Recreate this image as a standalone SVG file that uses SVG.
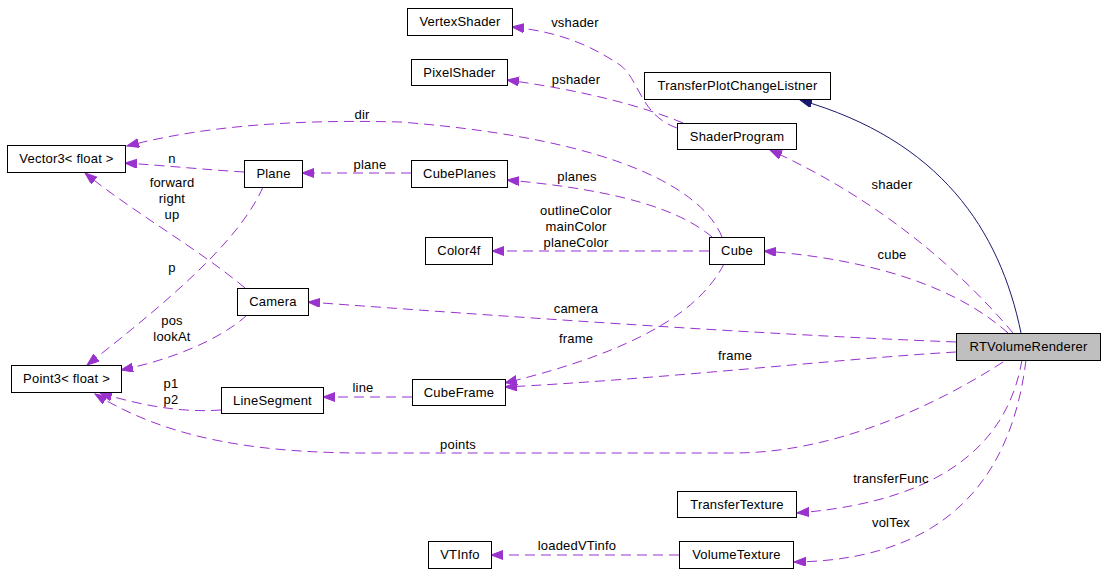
<svg xmlns="http://www.w3.org/2000/svg" width="1104" height="584" viewBox="0 0 1104 584">
<style>
text{font-family:"Liberation Sans",Arial,sans-serif;font-size:13px;letter-spacing:0.2px;fill:#000}
.n rect{fill:#fff;stroke:#000;stroke-width:1}
.n text{text-anchor:middle}
.e{fill:none;stroke:#9a32cd;stroke-width:1;stroke-dasharray:10,6;marker-end:url(#ap)}
.inh{fill:none;stroke:#191970;stroke-width:1;marker-end:url(#an)}
.l{text-anchor:middle}
</style>
<defs>
<marker id="ap" markerUnits="userSpaceOnUse" markerWidth="14" markerHeight="10" refX="12" refY="4.5" orient="auto"><path d="M0,0 L12,4.5 L0,9 z" fill="#9a32cd" stroke="#9a32cd"/></marker>
<marker id="an" markerUnits="userSpaceOnUse" markerWidth="14" markerHeight="10" refX="12" refY="4.5" orient="auto"><path d="M0,0 L12,4.5 L0,9 z" fill="#191970" stroke="#191970"/></marker>
</defs>
<rect width="1104" height="584" fill="#fff"/>
<g id="connectors">
<path class="inh" d="M1021,333 C1000,230 940,140 800,100"/>
<path class="e" d="M1013,333 C960,270 880,200 770,150"/>
<text class="l" x="892" y="189">shader</text>
<path class="e" d="M1008,333 C960,290 880,260 764,251"/>
<text class="l" x="892" y="259">cube</text>
<path class="e" d="M956,342 C750,334 500,316 308,302"/>
<text class="l" x="576" y="313">camera</text>
<path class="e" d="M956,352 C850,358 650,380 505,387"/>
<text class="l" x="735" y="360">frame</text>
<path class="e" d="M724,264 C700,310 640,350 505,383"/>
<text class="l" x="576" y="343">frame</text>
<path class="e" d="M709,251 L492,251"/>
<text class="l" x="576" y="215">outlineColor</text>
<text class="l" x="576" y="231">mainColor</text>
<text class="l" x="576" y="247">planeColor</text>
<path class="e" d="M712,237 C680,210 620,190 507,180"/>
<text class="l" x="577" y="181">planes</text>
<path class="e" d="M722,237 C705,195 630,140 400,122 C250,118 170,135 127,146"/>
<text class="l" x="362" y="119">dir</text>
<path class="e" d="M677,128 C640,115 640,80 620,65 C590,45 560,32 512,27"/>
<text class="l" x="575" y="27">vshader</text>
<path class="e" d="M683,123 C640,105 580,90 507,80"/>
<text class="l" x="576" y="84">pshader</text>
<path class="e" d="M244,172 C210,170 170,166 125,163"/>
<text class="l" x="172" y="163">n</text>
<path class="e" d="M411,173 L302,173"/>
<text class="l" x="370" y="169">plane</text>
<path class="e" d="M245,288 C200,250 130,210 85,173"/>
<text class="l" x="172" y="187">forward</text>
<text class="l" x="172" y="203">right</text>
<text class="l" x="172" y="219">up</text>
<path class="e" d="M263,187 C240,240 170,300 87,365"/>
<text class="l" x="172" y="272">p</text>
<path class="e" d="M247,315 C220,340 170,360 121,370"/>
<text class="l" x="172" y="325">pos</text>
<text class="l" x="172" y="341">lookAt</text>
<path class="e" d="M221,410 C180,413 140,405 100,393"/>
<text class="l" x="171" y="388">p1</text>
<text class="l" x="171" y="404">p2</text>
<path class="e" d="M412,397 L323,397"/>
<text class="l" x="363" y="392">line</text>
<path class="e" d="M1003,362 C960,390 850,453 734,453 L380,453 C260,454 170,440 95,394"/>
<text class="l" x="458" y="449">points</text>
<path class="e" d="M1022,360 C1010,430 960,500 797,513"/>
<text class="l" x="891" y="483">transferFunc</text>
<path class="e" d="M1026,360 C1015,450 970,560 794,562"/>
<text class="l" x="891" y="527">volTex</text>
<path class="e" d="M679,555 L491,555"/>
<text class="l" x="577" y="550">loadedVTinfo</text>
</g>
<g id="VertexShader" class="n"><rect x="407.5" y="8.5" width="105" height="27"/><text x="460" y="26">VertexShader</text></g>
<g id="PixelShader" class="n"><rect x="411.5" y="59.5" width="96" height="26"/><text x="459.5" y="76.5">PixelShader</text></g>
<g id="TransferPlotChangeListner" class="n"><rect x="644.5" y="72.5" width="186" height="27"/><text x="737.5" y="90">TransferPlotChangeListner</text></g>
<g id="ShaderProgram" class="n"><rect x="677.5" y="123.5" width="119" height="26"/><text x="737" y="140.5">ShaderProgram</text></g>
<g id="Vector3" class="n"><rect x="7.5" y="145.5" width="118" height="27"/><text x="66.5" y="163">Vector3&lt; float &gt;</text></g>
<g id="Plane" class="n"><rect x="244.5" y="160.5" width="58" height="27"/><text x="273.5" y="178">Plane</text></g>
<g id="CubePlanes" class="n"><rect x="411.5" y="160.5" width="96" height="27"/><text x="459.5" y="178">CubePlanes</text></g>
<g id="Color4f" class="n"><rect x="425.5" y="237.5" width="67" height="27"/><text x="459" y="255">Color4f</text></g>
<g id="Cube" class="n"><rect x="709.5" y="237.5" width="55" height="27"/><text x="737" y="255">Cube</text></g>
<g id="Camera" class="n"><rect x="237.5" y="288.5" width="71" height="27"/><text x="273" y="306">Camera</text></g>
<g id="Point3" class="n"><rect x="11.5" y="365.5" width="110" height="27"/><text x="66.5" y="383">Point3&lt; float &gt;</text></g>
<g id="LineSegment" class="n"><rect x="221.5" y="387.5" width="102" height="26"/><text x="272.5" y="404.5">LineSegment</text></g>
<g id="CubeFrame" class="n"><rect x="412.5" y="379.5" width="93" height="26"/><text x="459" y="396.5">CubeFrame</text></g>
<g id="RTVolumeRenderer" class="n"><rect x="956.5" y="333.5" width="144" height="27" style="fill:#bfbfbf"/><text x="1028.5" y="351">RTVolumeRenderer</text></g>
<g id="TransferTexture" class="n"><rect x="677.5" y="491.5" width="119" height="26"/><text x="737" y="508.5">TransferTexture</text></g>
<g id="VolumeTexture" class="n"><rect x="679.5" y="541.5" width="114" height="27"/><text x="736.5" y="559">VolumeTexture</text></g>
<g id="VTInfo" class="n"><rect x="428.5" y="541.5" width="63" height="27"/><text x="460" y="559">VTInfo</text></g>
</svg>
